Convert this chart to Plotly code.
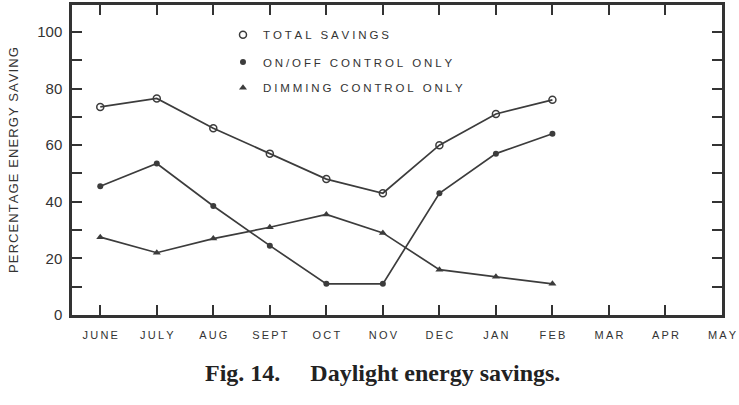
import plotly.graph_objects as go

months = ["JUNE", "JULY", "AUG", "SEPT", "OCT", "NOV", "DEC", "JAN", "FEB", "MAR", "APR", "MAY"]
total_savings = [73.5, 76.5, 66, 57, 48, 43, 60, 71, 76]
onoff_only = [45.5, 53.5, 38.5, 24.5, 11, 11, 43, 57, 64]
dimming_only = [27.5, 22, 27, 31, 35.5, 29, 16, 13.5, 11]

SP = "\u2005"
def spaced(s, sep=SP):
    return sep.join(list(s))

x_idx = list(range(len(months)))
INK = "#333333"
LINE = "#3c3c3c"
SANS = "Liberation Sans, Arial, sans-serif"

fig = go.Figure()

series = [
    ("TOTAL SAVINGS", total_savings, dict(symbol="circle-open", size=7, color=LINE, line=dict(width=1.5, color=LINE)), "legend"),
    ("ON/OFF CONTROL ONLY", onoff_only, dict(symbol="circle", size=6, color=LINE), "legend2"),
    ("DIMMING CONTROL ONLY", dimming_only, dict(symbol="triangle-up", size=7, color=LINE), "legend3"),
]

for name, vals, mk, lg in series:
    fig.add_trace(go.Scatter(
        x=x_idx[:len(vals)], y=vals, mode="lines+markers",
        line=dict(color=LINE, width=1.7), marker=mk,
        showlegend=False, hoverinfo="skip", cliponaxis=False,
    ))
    fig.add_trace(go.Scatter(
        x=[None], y=[None], mode="markers", marker=mk,
        name=spaced(name), showlegend=True, legend=lg,
    ))

leg_common = dict(x=0.2323, xanchor="left", yanchor="middle", bgcolor="rgba(0,0,0,0)",
                  font=dict(family=SANS, size=11.5, color=INK), itemwidth=30)
fig.update_layout(
    legend=dict(y=0.904, **leg_common),
    legend2=dict(y=0.816, **leg_common),
    legend3=dict(y=0.733, **leg_common),
)

fig.update_xaxes(
    range=[-0.5, 11], tickvals=x_idx, ticktext=[spaced(m, "\u2009") for m in months],
    showline=True, linecolor=INK, linewidth=2.5, mirror="allticks",
    ticks="inside", ticklen=10, tickwidth=1.5, tickcolor=INK,
    showgrid=False, zeroline=False, ticklabelstandoff=8,
    tickfont=dict(family=SANS, size=11, color=INK),
)
fig.update_yaxes(
    range=[0, 109.5], tickvals=[0, 20, 40, 60, 80, 100],
    showline=True, linecolor=INK, linewidth=2.5, mirror="allticks",
    ticks="inside", ticklen=10, tickwidth=1.5, tickcolor=INK,
    minor=dict(dtick=10, ticks="inside", ticklen=10, tickwidth=1.5, tickcolor=INK),
    showgrid=False, zeroline=False, ticklabelstandoff=4,
    tickfont=dict(family=SANS, size=15, color=INK),
    title=dict(text=spaced("PERCENTAGE ENERGY SAVING", "\u200a"), font=dict(family=SANS, size=13, color=INK), standoff=16),
)

fig.add_annotation(
    text="<b>Fig. 14.\u00a0\u00a0\u00a0\u00a0\u00a0Daylight energy savings.</b>",
    xref="paper", yref="paper", x=0.4777, y=-0.1885, xanchor="center", yanchor="middle",
    showarrow=False, font=dict(family="Liberation Serif, Times New Roman, serif", size=24, color="#222222"),
)

fig.update_layout(
    width=739, height=405,
    margin=dict(l=72, r=17, t=2, b=90),
    paper_bgcolor="white", plot_bgcolor="white",
)

fig.write_html("out.html")
